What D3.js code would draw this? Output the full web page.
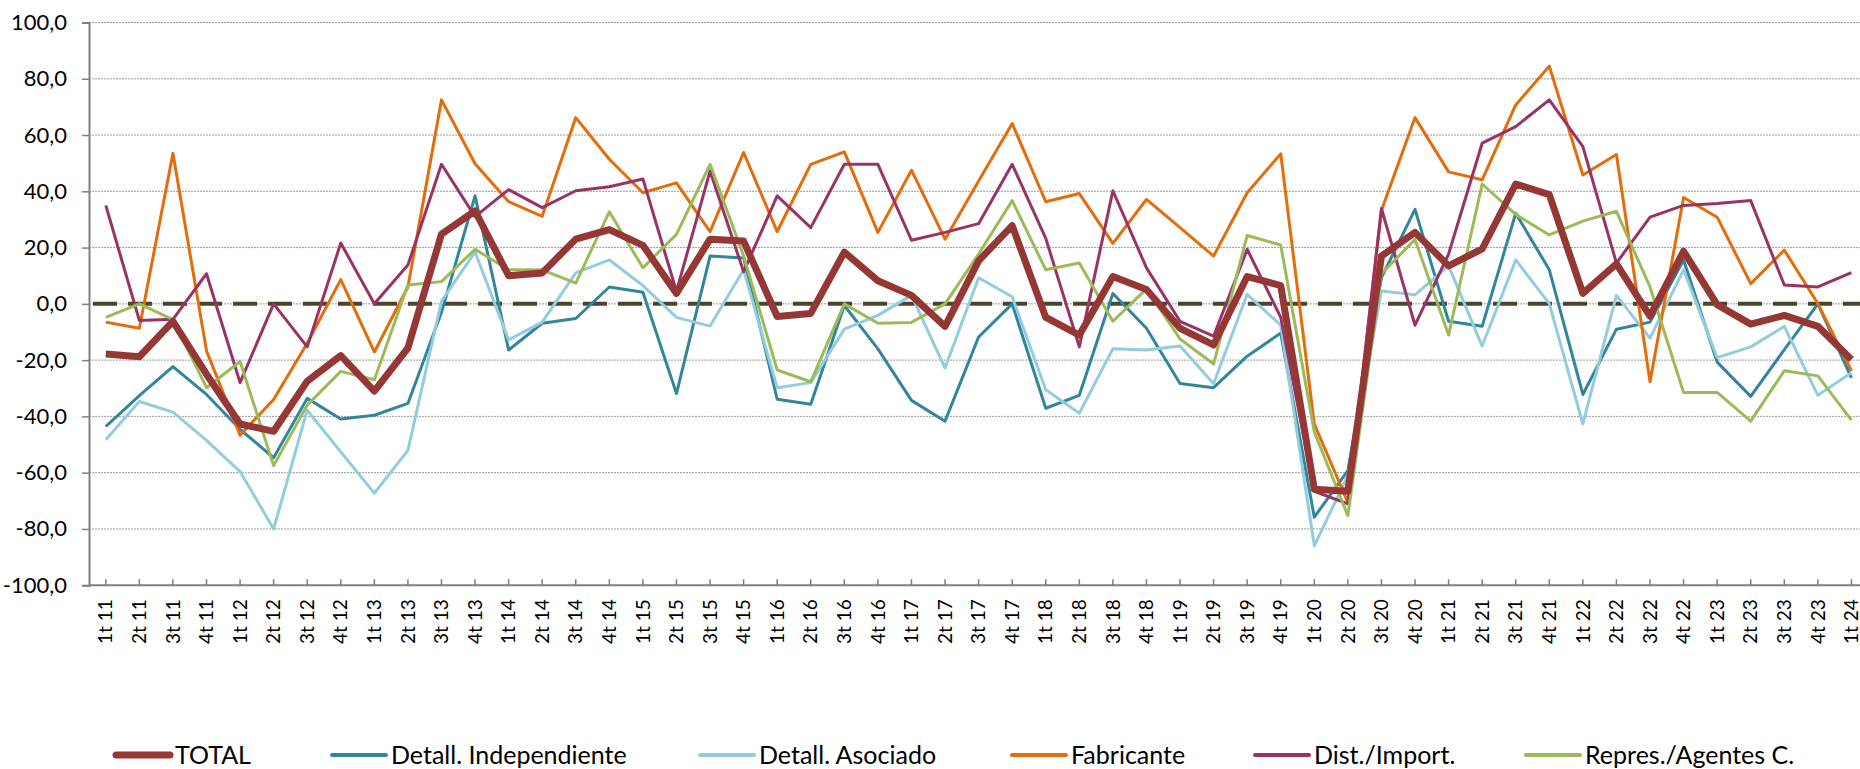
<!DOCTYPE html>
<html>
<head>
<meta charset="utf-8">
<script src="https://cdn.jsdelivr.net/npm/d3@7"></script>
<style>
  body { margin: 0; background: #fff; }
  svg text { font-family: "Gill Sans", "Gill Sans MT", Lato, sans-serif; fill: #000; }
</style>
</head>
<body>
<div id="graph-holder"></div>
<script>
// quarters, 1t 11 .. 1t 24
var categories = [
  "1t 11", "2t 11", "3t 11", "4t 11", "1t 12", "2t 12", "3t 12", "4t 12",
  "1t 13", "2t 13", "3t 13", "4t 13", "1t 14", "2t 14", "3t 14", "4t 14",
  "1t 15", "2t 15", "3t 15", "4t 15", "1t 16", "2t 16", "3t 16", "4t 16",
  "1t 17", "2t 17", "3t 17", "4t 17", "1t 18", "2t 18", "3t 18", "4t 18",
  "1t 19", "2t 19", "3t 19", "4t 19", "1t 20", "2t 20", "3t 20", "4t 20",
  "1t 21", "2t 21", "3t 21", "4t 21", "1t 22", "2t 22", "3t 22", "4t 22",
  "1t 23", "2t 23", "3t 23", "4t 23", "1t 24"
];

var total = [
  -17.8, -18.8, -6.2, -25, -42.7, -45.3, -27.5, -18.4, -31, -15.7, 24.8, 33,
  10, 11, 23, 26.4, 20.8, 3.7, 23, 22.3, -4.5, -3.4, 18.4, 8.2,
  3, -8, 15.3, 27.8, -4.8, -11.1, 9.7, 5.1, -8.7, -14.6, 9.7, 6.5,
  -65.9, -66.6, 17, 25.4, 13.5, 19.5, 42.6, 38.8, 3.7, 14.2, -4.4, 18.7,
  -0.3, -7.2, -4.1, -8, -19.8
];

var detallIndependiente = [
  -43.6, -32.6, -22.3, -32.2, -44.6, -54.7, -33.6, -40.9, -39.6, -35.4, -3, 38.4,
  -16.4, -6.9, -5.2, 6, 4.1, -31.9, 17, 16.3, -33.9, -35.7, -0.6, -16,
  -34.3, -41.7, -11.8, 0, -37.1, -32.5, 3.7, -8.7, -28.3, -29.8, -18.6, -10.4,
  -75.8, -59.3, 9.3, 33.6, -6.2, -8, 32.2, 12.1, -32.2, -9, -6.5, 15.6,
  -20.7, -32.9, -16.3, 0, -26.3
];

var detallAsociado = [
  -48.3, -34.7, -38.5, -48.5, -59.6, -80, -37.8, -52.6, -67.3, -52.1, 1, 18.4,
  -12.8, -6.5, 11, 15.6, 6.5, -4.8, -7.9, 12.1, -29.8, -28, -9, -4.1,
  3, -22.8, 9.3, 2.5, -30.5, -38.9, -16, -16.4, -15, -28.4, 3.4, -7.6,
  -86, -61, 4.6, 3.2, 13.5, -15, 15.6, 0.1, -42.7, 3, -12.2, 12.1,
  -19.1, -15.3, -8, -32.5, -24.5
];

var fabricante = [
  -6.5, -8.7, 53.5, -16.7, -46.7, -34, -14, 8.6, -17.1, 6, 72.5, 49.8,
  36.3, 31.1, 66.2, 51.4, 39.5, 43, 25.7, 53.8, 25.7, 49.6, 54, 25.4,
  47.5, 23, 43.7, 64.1, 36.3, 39.2, 21.5, 37.1, 27.1, 17, 39.5, 53.3,
  -42.7, -70.6, 33.2, 66.2, 46.9, 44.1, 70.7, 84.5, 45.8, 53.1, -27.7, 37.8,
  30.8, 7.2, 19.1, 0.1, -23.8
];

var distImport = [
  35, -5.9, -5.5, 10.7, -28, 0, -15.3, 21.6, 0, 13.8, 49.6, 31,
  40.6, 34.2, 40.2, 41.6, 44.4, 4.4, 47.2, 11.4, 38.4, 27.1, 49.6, 49.6,
  22.6, 25.4, 28.5, 49.6, 23.3, -15.3, 40.2, 12.8, -6.2, -11.5, 19.4, -4.8,
  -66.6, -71.1, 33.9, -7.6, 17.7, 57.1, 63, 72.5, 55.9, 14.5, 30.8, 35,
  35.7, 36.7, 6.7, 6, 11.1
];

var represAgentes = [
  -4.8, 0, -5.6, -29.8, -20.5, -57.5, -36, -24, -27, 6.7, 7.9, 19.4,
  12.1, 12.1, 7.4, 32.7, 12.8, 24.7, 49.6, 17, -23.5, -27.7, 0, -6.9,
  -6.6, 0, 17.7, 36.7, 12.1, 14.5, -6.2, 5.3, -12.5, -21.4, 24.3, 20.9,
  -45.5, -75.3, 10.7, 22.9, -11.1, 42.6, 31.8, 24.5, 29.4, 32.9, 6, -31.5,
  -31.5, -41.7, -23.8, -25.6, -41.3
];

var seriesNames = ["TOTAL", "Detall. Independiente", "Detall. Asociado", "Fabricante", "Dist./Import.", "Repres./Agentes C."];
var seriesColors = ["#953735", "#31859c", "#93cddd", "#e46c0a", "#993366", "#9bbb59"];

var yTicks = [-100, -80, -60, -40, -20, 0, 20, 40, 60, 80, 100];

function drawChart() {
  var width = 1860,
    height = 769,
    left = 89,
    top = 22.5,
    bottom = 585.2,
    step = 33.57;

  var svg = d3
    .select("#graph-holder")
    .append("svg")
    .attr("width", width)
    .attr("height", height);

  var x = d3
    .scaleBand()
    .domain(categories)
    .range([left, left + step * categories.length])
    .padding(0);

  var y = d3.scaleLinear().domain([-100, 100]).range([bottom, top]);

  var cx = (d) => x(d) + x.bandwidth() / 2;

  // horizontal dotted grid
  svg
    .append("g")
    .selectAll("line")
    .data(yTicks.filter((t) => t !== -100))
    .enter()
    .append("line")
    .attr("x1", left)
    .attr("x2", width)
    .attr("y1", (d) => y(d))
    .attr("y2", (d) => y(d))
    .attr("stroke", "#9a9a9a")
    .attr("stroke-width", 1)
    .attr("stroke-dasharray", "2,1");

  // y axis
  var yAxis = d3
    .axisLeft(y)
    .tickValues(yTicks)
    .tickSize(7)
    .tickPadding(15)
    .tickFormat((d) => d3.format(".1f")(d).replace(".", ",").replace("−", "-"));

  var gy = svg
    .append("g")
    .attr("transform", `translate(${left}, 0)`)
    .call(yAxis);
  gy.select(".domain").attr("stroke", "#808080").attr("stroke-width", 2);
  gy.selectAll(".tick line").attr("stroke", "#808080").attr("stroke-width", 1.5);
  gy.selectAll(".tick text").style("font-size", "22px");

  // x axis at -100 with inward ticks
  var xAxis = d3
    .axisBottom(x)
    .tickSizeInner(-6)
    .tickSizeOuter(0)
    .tickPadding(14);

  var gx = svg
    .append("g")
    .attr("transform", `translate(0, ${bottom})`)
    .call(xAxis);
  gx.select(".domain")
    .attr("d", `M${left},0H${width}`)
    .attr("stroke", "#808080")
    .attr("stroke-width", 2);
  gx.selectAll(".tick line").attr("stroke", "#808080").attr("stroke-width", 1.5);
  gx.selectAll(".tick text")
    .style("font-size", "19px")
    .attr("text-anchor", "end")
    .attr("dy", "0.35em")
    .attr("transform", "translate(0, 10) rotate(-90)")
    .attr("y", 0)
    .attr("x", -4);

  // zero reference line
  svg
    .append("line")
    .attr("x1", left + 4)
    .attr("x2", width)
    .attr("y1", y(0))
    .attr("y2", y(0))
    .attr("stroke", "#4a452a")
    .attr("stroke-width", 4)
    .attr("stroke-dasharray", "24,11");

  var seriesData = [total, detallIndependiente, detallAsociado, fabricante, distImport, represAgentes];

  var line = d3
    .line()
    .x((d, i) => cx(categories[i]))
    .y((d) => y(d));

  // draw so that TOTAL ends up on top
  var order = [1, 2, 3, 4, 5, 0];
  order.forEach(function (k) {
    svg
      .append("path")
      .datum(seriesData[k])
      .attr("fill", "none")
      .attr("stroke", seriesColors[k])
      .attr("stroke-width", k === 0 ? 7 : 3)
      .attr("stroke-linejoin", "round")
      .attr("d", line);
  });

  // legend
  var legendX = [116, 332, 700, 1012, 1255, 1526];
  var legendY = 755;
  var legend = svg
    .selectAll(".legend")
    .data(seriesNames)
    .enter()
    .append("g")
    .attr("class", "legend")
    .attr("transform", (d, i) => `translate(${legendX[i]}, ${legendY})`);

  legend
    .append("line")
    .attr("x1", 0)
    .attr("x2", 54)
    .attr("stroke", (d, i) => seriesColors[i])
    .attr("stroke-width", (d, i) => (i === 0 ? 7 : 4))
    .attr("stroke-linecap", "round");

  legend
    .append("text")
    .attr("x", 59)
    .attr("dy", "0.35em")
    .style("font-size", "25px")
    .text((d) => d);
}

drawChart();
</script>
</body>
</html>
